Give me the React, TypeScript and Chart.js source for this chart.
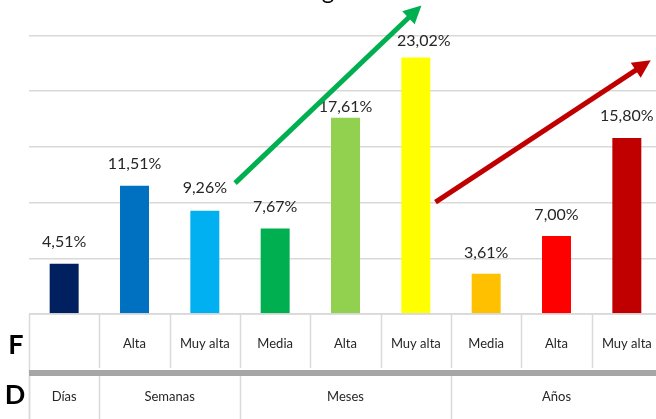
import React, { useEffect, useRef } from "react";
import { Chart, registerables } from "chart.js";

Chart.register(...registerables);

// ---- data ----
const TITLE = "Intensidad según duración";
const F_LABELS = ["", "Alta", "Muy alta", "Media", "Alta", "Muy alta", "Media", "Alta", "Muy alta"];
const D_LABELS = ["Días", "Semanas", "Meses", "Años"];
const D_SPANS = [1, 2, 3, 3];
const VALUES = [4.51, 11.51, 9.26, 7.67, 17.61, 23.02, 3.61, 7.0, 15.8];
const COLORS = ["#002060", "#0070C0", "#00B0F0", "#00B050", "#92D050", "#FFFF00", "#FFC000", "#FF0000", "#C00000"];
const Y_MAX = 25;
const Y_STEP = 5;
// trend arrows in data space: [xIndex, value]
const GREEN_ARROW = [[2.43, 11.75], [5.08, 27.7]];
const RED_ARROW = [[5.28, 10.04], [8.34, 22.78]];

// ---- style (not data) ----
const LABEL_LIFT = [22, 22, 23, 22, 11, 17, 21, 21, 22];
const LABEL_SHIFT_X = [0, 0, 0, 0, 0, 8, 0, 0, 0];
const OY = 40; // canvas shifted up so the title is cropped
const CW = 670;
const CH = 470;
const FONT = "Lato, 'Open Sans', sans-serif";

const fmt = (v: number) => v.toFixed(2).replace(".", ",") + "%";

function buildLabels() {
  const out: string[] = [];
  let k = 0;
  D_LABELS.forEach((d, gi) => {
    for (let j = 0; j < D_SPANS[gi]; j++) {
      out.push(F_LABELS[k] ? d + " " + F_LABELS[k] : d);
      k++;
    }
  });
  return out;
}

const titlePlugin = {
  id: "croppedTitle",
  afterDraw(chart: any) {
    const ctx = chart.ctx;
    ctx.save();
    ctx.font = "24px " + FONT;
    ctx.fillStyle = "#000";
    ctx.textBaseline = "alphabetic";
    ctx.textAlign = "left";
    const gi = TITLE.indexOf("g");
    const pre = ctx.measureText(TITLE.slice(0, gi)).width;
    const gw = ctx.measureText("g").width;
    const cx = chart.width / 2 - 7 + 0; // page center ~328
    ctx.fillText(TITLE, cx - pre - gw / 2, OY - 1);
    ctx.restore();
  },
};

const valueLabelPlugin = {
  id: "valueLabels",
  afterDatasetsDraw(chart: any) {
    const ctx = chart.ctx;
    const meta = chart.getDatasetMeta(0);
    ctx.save();
    ctx.font = "16px " + FONT;
    ctx.fillStyle = "#262626";
    ctx.textAlign = "center";
    ctx.textBaseline = "middle";
    meta.data.forEach((bar: any, i: number) => {
      ctx.fillText(fmt(VALUES[i]), bar.x + LABEL_SHIFT_X[i], bar.y - LABEL_LIFT[i]);
    });
    ctx.restore();
  },
};

function drawArrow(ctx: any, chart: any, pts: number[][], color: string) {
  const xs = chart.scales.x;
  const ys = chart.scales.y;
  const x0 = xs.getPixelForValue(pts[0][0]);
  const y0 = ys.getPixelForValue(pts[0][1]);
  const x1 = xs.getPixelForValue(pts[1][0]);
  const y1 = ys.getPixelForValue(pts[1][1]);
  const ang = Math.atan2(y1 - y0, x1 - x0);
  const headLen = 18;
  const headW = 9;
  const bx = x1 - headLen * Math.cos(ang);
  const by = y1 - headLen * Math.sin(ang);
  ctx.save();
  ctx.strokeStyle = color;
  ctx.fillStyle = color;
  ctx.lineWidth = 5;
  ctx.lineCap = "butt";
  ctx.beginPath();
  ctx.moveTo(x0, y0);
  ctx.lineTo(bx + 2 * Math.cos(ang), by + 2 * Math.sin(ang));
  ctx.stroke();
  ctx.beginPath();
  ctx.moveTo(x1, y1);
  ctx.lineTo(bx + headW * Math.sin(ang), by - headW * Math.cos(ang));
  ctx.lineTo(bx - headW * Math.sin(ang), by + headW * Math.cos(ang));
  ctx.closePath();
  ctx.fill();
  ctx.restore();
}

const arrowPlugin = {
  id: "arrows",
  afterDraw(chart: any) {
    drawArrow(chart.ctx, chart, GREEN_ARROW, "#00B050");
    drawArrow(chart.ctx, chart, RED_ARROW, "#C00000");
  },
};

const tablePlugin = {
  id: "catTable",
  afterDraw(chart: any) {
    const ctx = chart.ctx;
    const xs = chart.scales.x;
    const area = chart.chartArea;
    const half = (xs.getPixelForValue(1) - xs.getPixelForValue(0)) / 2;
    const edge = (i: number) => xs.getPixelForValue(i) - half;
    const top = area.bottom;
    const fBottom = top + 54;
    const sepTop = top + 56;
    const sepH = 6;
    const dTop = sepTop + sepH;
    const bottom = chart.height;
    const left = edge(0);
    const right = edge(F_LABELS.length);
    ctx.save();
    ctx.strokeStyle = "#d9d9d9";
    ctx.lineWidth = 1.5;
    // top border
    ctx.beginPath();
    ctx.moveTo(left, top);
    ctx.lineTo(right, top);
    ctx.stroke();
    // F row verticals
    for (let i = 0; i <= F_LABELS.length; i++) {
      const x = Math.round(edge(i)) + 0.5;
      ctx.beginPath();
      ctx.moveTo(x, top);
      ctx.lineTo(x, i === 0 ? bottom : fBottom);
      ctx.stroke();
    }
    // D row verticals
    let k = 0;
    const bounds = [0];
    D_SPANS.forEach((s) => {
      k += s;
      bounds.push(k);
    });
    bounds.forEach((b) => {
      const x = Math.round(edge(b)) + 0.5;
      ctx.beginPath();
      ctx.moveTo(x, dTop);
      ctx.lineTo(x, bottom);
      ctx.stroke();
    });
    // separator
    ctx.fillStyle = "#a6a6a6";
    ctx.fillRect(left, sepTop, right - left, sepH);
    // F labels
    ctx.fillStyle = "#262626";
    ctx.font = "13px " + FONT;
    ctx.textAlign = "center";
    ctx.textBaseline = "middle";
    F_LABELS.forEach((l, i) => {
      if (l) ctx.fillText(l, xs.getPixelForValue(i), top + 30);
    });
    // D labels
    D_LABELS.forEach((l, gi) => {
      const a = edge(bounds[gi]);
      const b = edge(bounds[gi + 1]);
      ctx.fillText(l, (a + b) / 2, dTop + 21);
    });
    // row headers
    ctx.fillStyle = "#000";
    ctx.font = "bold 27px " + FONT;
    ctx.fillText("F", 16, top + 31);
    ctx.fillText("D", 15, dTop + 19);
    ctx.restore();
  },
};

export default function App() {
  const ref = useRef<HTMLCanvasElement | null>(null);
  useEffect(() => {
    if (!ref.current) return;
    const chart = new Chart(ref.current, {
      type: "bar",
      data: {
        labels: buildLabels(),
        datasets: [
          {
            data: VALUES,
            backgroundColor: COLORS,
            borderWidth: 0,
            categoryPercentage: 1,
            barPercentage: 0.412,
          },
        ],
      },
      options: {
        responsive: false,
        animation: false,
        devicePixelRatio: 1,
        layout: { padding: { left: 29, right: 8, top: OY + 35.5, bottom: CH - (OY + 314) } },
        plugins: { legend: { display: false }, title: { display: false }, tooltip: { enabled: false } },
        scales: {
          x: { display: false },
          y: {
            display: true,
            min: 0,
            max: Y_MAX,
            ticks: { display: false, stepSize: Y_STEP },
            border: { display: false },
            grid: { color: "#d9d9d9", lineWidth: 1.5, drawTicks: false },
          },
        },
      },
      plugins: [valueLabelPlugin, arrowPlugin, tablePlugin, titlePlugin],
    });
    return () => chart.destroy();
  }, []);
  return (
    <div style={{ position: "fixed", left: 0, top: 0, width: 656, height: 419, overflow: "hidden", background: "#fff" }}>
      <canvas ref={ref} width={CW} height={CH} style={{ position: "absolute", left: 0, top: -OY, width: CW, height: CH }} />
    </div>
  );
}
